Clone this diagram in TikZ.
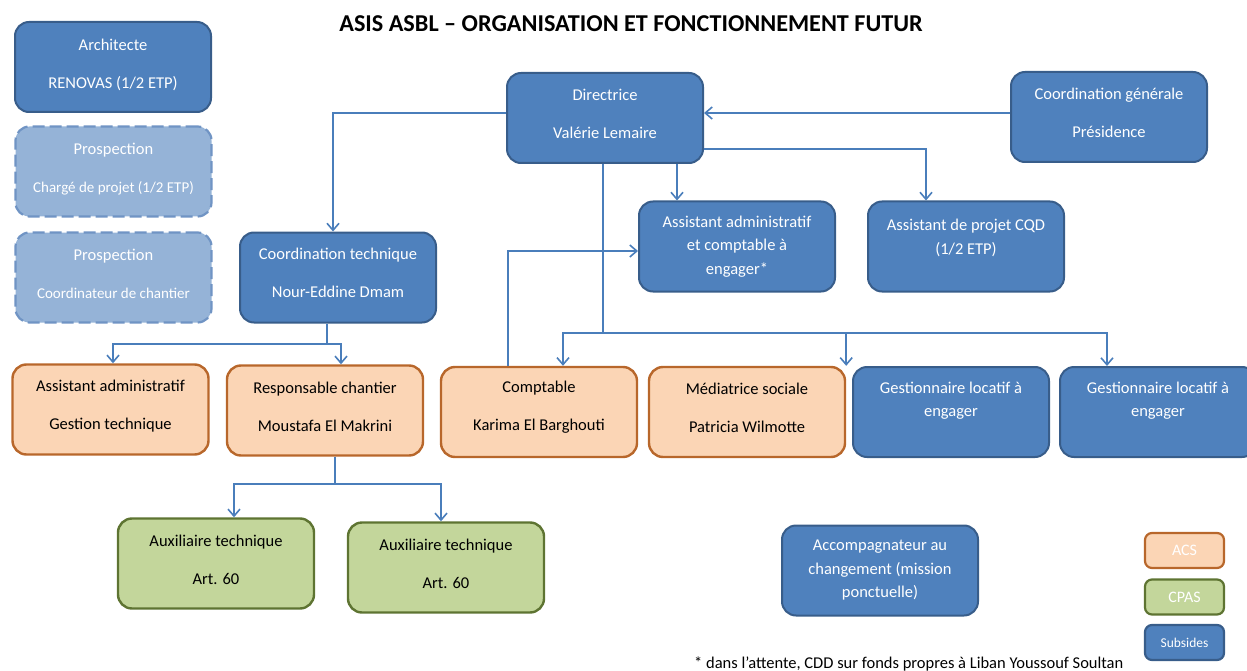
\documentclass[tikz,border=0pt]{standalone}
\usepackage{fontspec}
\setmainfont{Carlito}
\usetikzlibrary{arrows.meta}
\definecolor{bfill}{HTML}{4F81BD}
\definecolor{bdraw}{HTML}{385D8A}
\definecolor{lfill}{HTML}{95B3D7}
\definecolor{ldraw}{HTML}{7094C4}
\definecolor{ofill}{HTML}{FBD5B5}
\definecolor{odraw}{HTML}{B8672B}
\definecolor{gfill}{HTML}{C3D69B}
\definecolor{gdraw}{HTML}{5E7432}
\definecolor{lnk}{HTML}{4A7EBB}
\begin{document}
\begin{tikzpicture}[x=1pt,y=-1pt,
  box/.style={rounded corners=14pt, minimum width=196pt, minimum height=90pt, inner sep=0pt, line width=2pt},
  bluebox/.style={box, fill=bfill, draw=bdraw},
  lightbox/.style={box, fill=lfill, draw=ldraw, dash pattern=on 12pt off 5pt, line width=2.2pt},
  orangebox/.style={box, fill=ofill, draw=odraw, line width=2.4pt},
  greenbox/.style={box, fill=gfill, draw=gdraw, line width=2.4pt},
  wtxt/.style={text=white, align=center, font=\fontsize{16.5}{23.5}\selectfont, inner sep=0pt},
  ktxt/.style={wtxt, text=black},
  legbox/.style={rounded corners=7pt, minimum width=79pt, minimum height=35pt, inner sep=0pt, line width=2.2pt, text=white, font=\fontsize{16}{19}\selectfont},
  lnkline/.style={draw=lnk, line width=1.6pt},
  conn/.style={lnkline, -{Straight Barb[length=7pt,width=12pt]}},
]
\useasboundingbox (0,0) rectangle (1247,671);
\clip (0,0) rectangle (1247,671);

% title
\node[font=\bfseries\fontsize{24.2}{28}\selectfont, inner sep=0pt] (title) at (631,24) {ASIS ASBL – ORGANISATION ET FONCTIONNEMENT FUTUR};

% boxes
\node[bluebox] (arch) at (113,67) {};
\node[lightbox] (pros1) at (113.5,171.5) {};
\node[lightbox] (pros2) at (113.5,277.5) {};
\node[bluebox] (ct) at (338,277.5) {};
\node[bluebox] (dir) at (605,118) {};
\node[bluebox] (cg) at (1109,117) {};
\node[bluebox] (ac) at (737,246.5) {};
\node[bluebox] (cqd) at (966,246.5) {};
\node[orangebox] (aa) at (110.5,409.5) {};
\node[orangebox] (rc) at (325,410.5) {};
\node[orangebox] (co) at (539,412) {};
\node[orangebox] (me) at (747,412) {};
\node[bluebox] (g1) at (951,412) {};
\node[bluebox] (g2) at (1158,412) {};
\node[greenbox] (ax1) at (216,563.5) {};
\node[greenbox] (ax2) at (446,567.5) {};
\node[bluebox] (acp) at (880,570.5) {};

% texts
\node[wtxt] (archT) at (113,64.5) {Architecte\\[14.5pt]RENOVAS (1/2 ETP)};
\node[wtxt] (pros1T) at (113.5,169) {Prospection\\[14.5pt]{\fontsize{15}{20}\selectfont Chargé de projet (1/2 ETP)}};
\node[wtxt] (pros2T) at (113.5,273.5) {Prospection\\[14.5pt]{\fontsize{15}{20}\selectfont Coordinateur de chantier}};
\node[wtxt] (ctT) at (338,273) {Coordination technique\\[14.5pt]Nour-Eddine Dmam};
\node[wtxt] (dirT) at (605,114) {Directrice\\[14.5pt]Valérie Lemaire};
\node[wtxt] (cgT) at (1109,113) {Coordination générale\\[14.5pt]Présidence};
\node[wtxt] (acT) at (737,246.5) {Assistant administratif\\et comptable à\\engager*};
\node[wtxt] (cqdT) at (966,238) {Assistant de projet CQD\\(1/2 ETP)};
\node[ktxt] (aaT) at (110.5,406.5) {Assistant administratif\\[14.5pt]Gestion technique};
\node[ktxt] (rcT) at (325,406.5) {Responsable chantier\\[14.5pt]Moustafa El Makrini};
\node[ktxt] (coT) at (539,407.5) {Comptable\\[14.5pt]Karima El Barghouti};
\node[ktxt] (meT) at (747,407.5) {Médiatrice sociale\\[14.5pt]Patricia Wilmotte};
\node[wtxt] (g1T) at (951,400.5) {Gestionnaire locatif à\\engager};
\node[wtxt] (g2T) at (1158,400.5) {Gestionnaire locatif à\\engager};
\node[ktxt] (ax1T) at (216,560) {Auxiliaire technique\\[14.5pt]Art. 60};
\node[ktxt] (ax2T) at (446,564) {Auxiliaire technique\\[14.5pt]Art. 60};
\node[wtxt] (acpT) at (880,570.5) {Accompagnateur au\\changement (mission\\ponctuelle)};

% legend
\node[legbox, fill=ofill, draw=odraw] (lacs) at (1184.5,550.5) {ACS};
\node[legbox, fill=gfill, draw=gdraw] (lcpas) at (1184.5,597) {CPAS};
\node[legbox, fill=bfill, draw=bdraw, font=\fontsize{13.5}{16}\selectfont] (lsub) at (1184.5,642.5) {Subsides};

% footnote
\node[anchor=base west, inner sep=0pt, font=\fontsize{16.5}{20}\selectfont] (foot) at (694,668.5) {* dans l’attente, CDD sur fonds propres à Liban Youssouf Soultan};

% connectors
\coordinate (bus) at (603,333);
\coordinate (ctj) at (327,344);
\coordinate (rcj) at (335,484);
\draw[conn] ([yshift=5pt]dir.west) -| ([xshift=-5pt]ct.north);
\draw[conn] ([yshift=4pt]cg.west) -- ([yshift=5pt]dir.east);
\draw[conn] ([yshift=-31pt]dir.east) -| ([xshift=-40pt]cqd.north);
\draw[conn] ([xshift=72pt]dir.south) -- ([xshift=-60pt]ac.north);
\draw[lnkline] ([xshift=-2pt]dir.south) -- (bus);
\draw[conn] (bus) -| ([xshift=24pt]co.north);
\draw[conn] (bus) -| (me.north east);
\draw[conn] (bus) -| ([xshift=-51pt]g2.north);
\draw[conn] ([xshift=-31pt]co.north) |- ([yshift=-4.5pt]ac.west);
\draw[lnkline] ([xshift=-11pt]ct.south) -- (ctj);
\draw[conn] (ctj) -| ([xshift=2.5pt]aa.north);
\draw[conn] (ctj) -| ([xshift=16pt]rc.north);
\draw[lnkline] ([xshift=10pt]rc.south) -- (rcj);
\draw[conn] (rcj) -| ([xshift=18pt]ax1.north);
\draw[conn] (rcj) -| ([xshift=-5pt]ax2.north);
\end{tikzpicture}
\end{document}
